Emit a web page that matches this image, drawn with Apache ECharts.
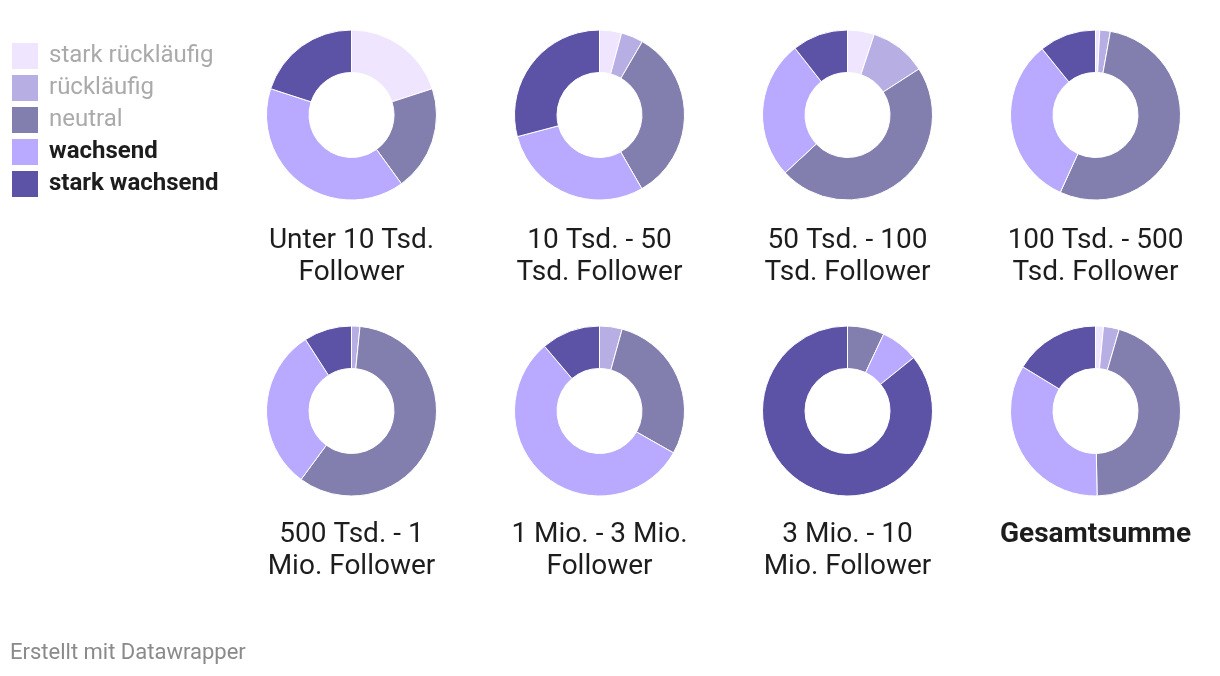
<!DOCTYPE html>
<html>
<head>
<meta charset="utf-8">
<script src="https://cdn.jsdelivr.net/npm/echarts@6/dist/echarts.min.js"></script>
<style>
  html, body { margin: 0; padding: 0; background: #ffffff; }
  #chart { width: 1220px; height: 676px; }
</style>
</head>
<body>
<div id="chart"></div>
<script>
// Categories (legend order / slice order)
const categories = ['stark rückläufig', 'rückläufig', 'neutral', 'wachsend', 'stark wachsend'];
// Groups (one donut each)
const groups = [
  'Unter 10 Tsd.\nFollower',
  '10 Tsd. - 50\nTsd. Follower',
  '50 Tsd. - 100\nTsd. Follower',
  '100 Tsd. - 500\nTsd. Follower',
  '500 Tsd. - 1\nMio. Follower',
  '1 Mio. - 3 Mio.\nFollower',
  '3 Mio. - 10\nMio. Follower',
  'Gesamtsumme'
];
// Shares in % per category, one value per group
const starkRuecklaeufig = [20, 4.2, 5.1, 0.8, 0, 0, 0, 1.5];
const ruecklaeufig      = [0, 4.2, 10.8, 2.0, 1.6, 4.3, 0, 3.0];
const neutral           = [20, 33.3, 47.2, 54.0, 58.5, 28.9, 7.0, 45.2];
const wachsend          = [40, 29.2, 26.3, 32.4, 30.8, 55.6, 7.2, 34.0];
const starkWachsend     = [20, 29.1, 10.6, 10.8, 9.1, 11.2, 85.8, 16.3];
const footer = 'Erstellt mit Datawrapper';

const valuesByCategory = [starkRuecklaeufig, ruecklaeufig, neutral, wachsend, starkWachsend];
const colors = ['#efe5ff', '#b7afe4', '#827fae', '#b9a9ff', '#5c53a6'];
const legendText = [
  { color: '#aaaaaa', fontWeight: 'normal' },
  { color: '#aaaaaa', fontWeight: 'normal' },
  { color: '#aaaaaa', fontWeight: 'normal' },
  { color: '#1d1d1d', fontWeight: 'bold' },
  { color: '#1d1d1d', fontWeight: 'bold' }
];

const colX = [351.5, 599.5, 847.5, 1095.5];
const rowY = [115, 411];
const labelTop = [225, 519];

const series = [];
const titles = [];
groups.forEach((g, i) => {
  const cx = colX[i % 4];
  const row = Math.floor(i / 4);
  series.push({
    type: 'pie',
    name: g,
    center: [cx, rowY[row]],
    radius: [42.5, 85],
    startAngle: 90,
    clockwise: true,
    avoidLabelOverlap: false,
    label: { show: false },
    labelLine: { show: false },
    emphasis: { disabled: true, scale: false },
    itemStyle: { borderColor: '#ffffff', borderWidth: 1 },
    data: categories.map((c, k) => ({ name: c, value: valuesByCategory[k][i] }))
  });
  titles.push({
    text: g,
    left: cx,
    top: labelTop[row],
    textAlign: 'center',
    padding: 0,
    textStyle: {
      fontFamily: 'Roboto',
      fontSize: 28,
      lineHeight: 32,
      fontWeight: g === 'Gesamtsumme' ? 'bold' : 'normal',
      color: '#1d1d1d'
    }
  });
});

const chart = echarts.init(document.getElementById('chart'), null, { renderer: 'canvas' });
chart.setOption({
  animation: false,
  color: colors,
  title: titles,
  tooltip: { show: false },
  legend: {
    orient: 'vertical',
    left: 10,
    top: 41,
    padding: 0,
    itemWidth: 28,
    itemHeight: 28,
    itemGap: 2,
    icon: 'rect',
    selectedMode: false,
    textStyle: { fontFamily: 'Roboto', fontSize: 24, padding: [0, 0, 0, 5] },
    data: categories.map((c, k) => ({ name: c, textStyle: legendText[k] }))
  },
  graphic: [{
    type: 'text',
    left: 10,
    top: 642,
    style: { text: footer, fontFamily: 'Roboto', fontSize: 22, fill: '#8a8a8a' }
  }],
  series: series
});
</script>
</body>
</html>
